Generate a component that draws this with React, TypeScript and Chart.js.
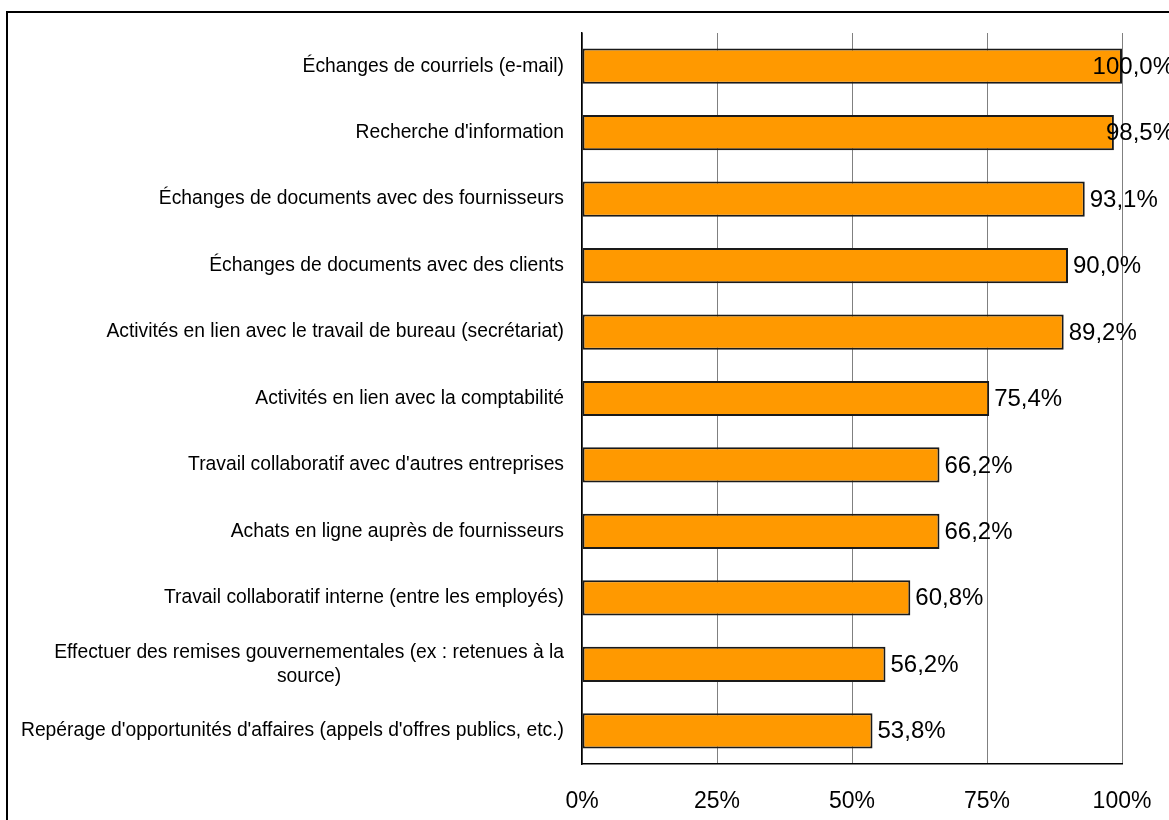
import { useEffect, useRef } from "react";
import { Chart, registerables } from "chart.js";

Chart.register(...registerables);

const categories: string[][] = [
  ["Échanges de courriels (e-mail)"],
  ["Recherche d'information"],
  ["Échanges de documents avec des fournisseurs"],
  ["Échanges de documents avec des clients"],
  ["Activités en lien avec le travail de bureau (secrétariat)"],
  ["Activités en lien avec la comptabilité"],
  ["Travail collaboratif avec d'autres entreprises"],
  ["Achats en ligne auprès de fournisseurs"],
  ["Travail collaboratif interne (entre les employés)"],
  ["Effectuer des remises gouvernementales (ex : retenues à la", "source)"],
  ["Repérage d'opportunités d'affaires (appels d'offres publics, etc.)"],
];

const values: number[] = [100.0, 98.5, 93.1, 90.0, 89.2, 75.4, 66.2, 66.2, 60.8, 56.2, 53.8];

const xTicks: number[] = [0, 25, 50, 75, 100];

const FONT = '"Liberation Sans", Arial, sans-serif';

const fmt = (v: number) => v.toFixed(1).replace(".", ",") + "%";

const categoryLabelPlugin = {
  id: "categoryLabels",
  afterDraw(chart: any) {
    const ctx = chart.ctx as CanvasRenderingContext2D;
    const yScale = chart.scales.y;
    const right = chart.chartArea.left - 18;
    ctx.save();
    ctx.font = `19.3px ${FONT}`;
    ctx.fillStyle = "#000";
    ctx.textAlign = "center";
    ctx.textBaseline = "middle";
    const lh = 24;
    categories.forEach((lines, i) => {
      const cy = yScale.getPixelForTick(i);
      const maxW = Math.max(...lines.map((l) => ctx.measureText(l).width));
      const cx = right - maxW / 2;
      lines.forEach((l, j) => {
        ctx.fillText(l, cx, cy + (j - (lines.length - 1) / 2) * lh);
      });
    });
    ctx.restore();
  },
};

const valueLabelPlugin = {
  id: "valueLabels",
  afterDatasetsDraw(chart: any) {
    const ctx = chart.ctx as CanvasRenderingContext2D;
    const meta = chart.getDatasetMeta(0);
    ctx.save();
    ctx.font = `24px ${FONT}`;
    ctx.fillStyle = "#000";
    ctx.textAlign = "left";
    ctx.textBaseline = "middle";
    meta.data.forEach((bar: any, i: number) => {
      const text = fmt(values[i]);
      const w = ctx.measureText(text).width;
      const x = Math.min(bar.x + 5, 1174 - w);
      ctx.fillText(text, x, bar.y + 1);
    });
    ctx.restore();
  },
};

export default function App() {
  const ref = useRef<HTMLCanvasElement | null>(null);

  useEffect(() => {
    if (!ref.current) return;
    const chart = new Chart(ref.current, {
      type: "bar",
      data: {
        labels: categories,
        datasets: [
          {
            data: values,
            backgroundColor: "#FF9900",
            borderColor: "#1a1a1a",
            borderWidth: 2,
            borderSkipped: false,
            barPercentage: 0.53,
            categoryPercentage: 1,
          },
        ],
      },
      options: {
        indexAxis: "y",
        responsive: false,
        animation: false,
        layout: { padding: { top: 33, right: 47, left: 0, bottom: 0 } },
        plugins: {
          legend: { display: false },
          tooltip: { enabled: false },
        },
        scales: {
          x: {
            min: 0,
            max: 100,
            afterBuildTicks: (s: any) => {
              s.ticks = xTicks.map((v) => ({ value: v }));
            },
            afterFit: (s: any) => {
              s.height = 56;
              s.paddingLeft = 0;
              s.paddingRight = 0;
            },
            grid: { color: "#808080", lineWidth: 1, drawTicks: false },
            border: { display: true, color: "#000000", width: 1.5 },
            ticks: {
              padding: 24,
              color: "#000",
              font: { family: FONT, size: 23 },
              callback: (v: any) => v + "%",
            },
          },
          y: {
            grid: { display: false },
            border: { display: true, color: "#000000", width: 1.5 },
            ticks: { display: false },
            afterFit: (s: any) => {
              s.width = 582;
            },
          },
        },
      },
      plugins: [categoryLabelPlugin, valueLabelPlugin],
    });
    return () => chart.destroy();
  }, []);

  return (
    <div
      style={{
        position: "absolute",
        left: 0,
        top: 0,
        width: 1169,
        height: 820,
        overflow: "hidden",
        background: "#fff",
      }}
    >
      <canvas
        ref={ref}
        width={1169}
        height={820}
        style={{ position: "absolute", left: 0, top: 0, width: 1169, height: 820 }}
      />
      <div
        style={{
          position: "absolute",
          left: 6,
          top: 11,
          width: 1300,
          height: 1000,
          border: "2px solid #000",
          pointerEvents: "none",
        }}
      />
    </div>
  );
}
